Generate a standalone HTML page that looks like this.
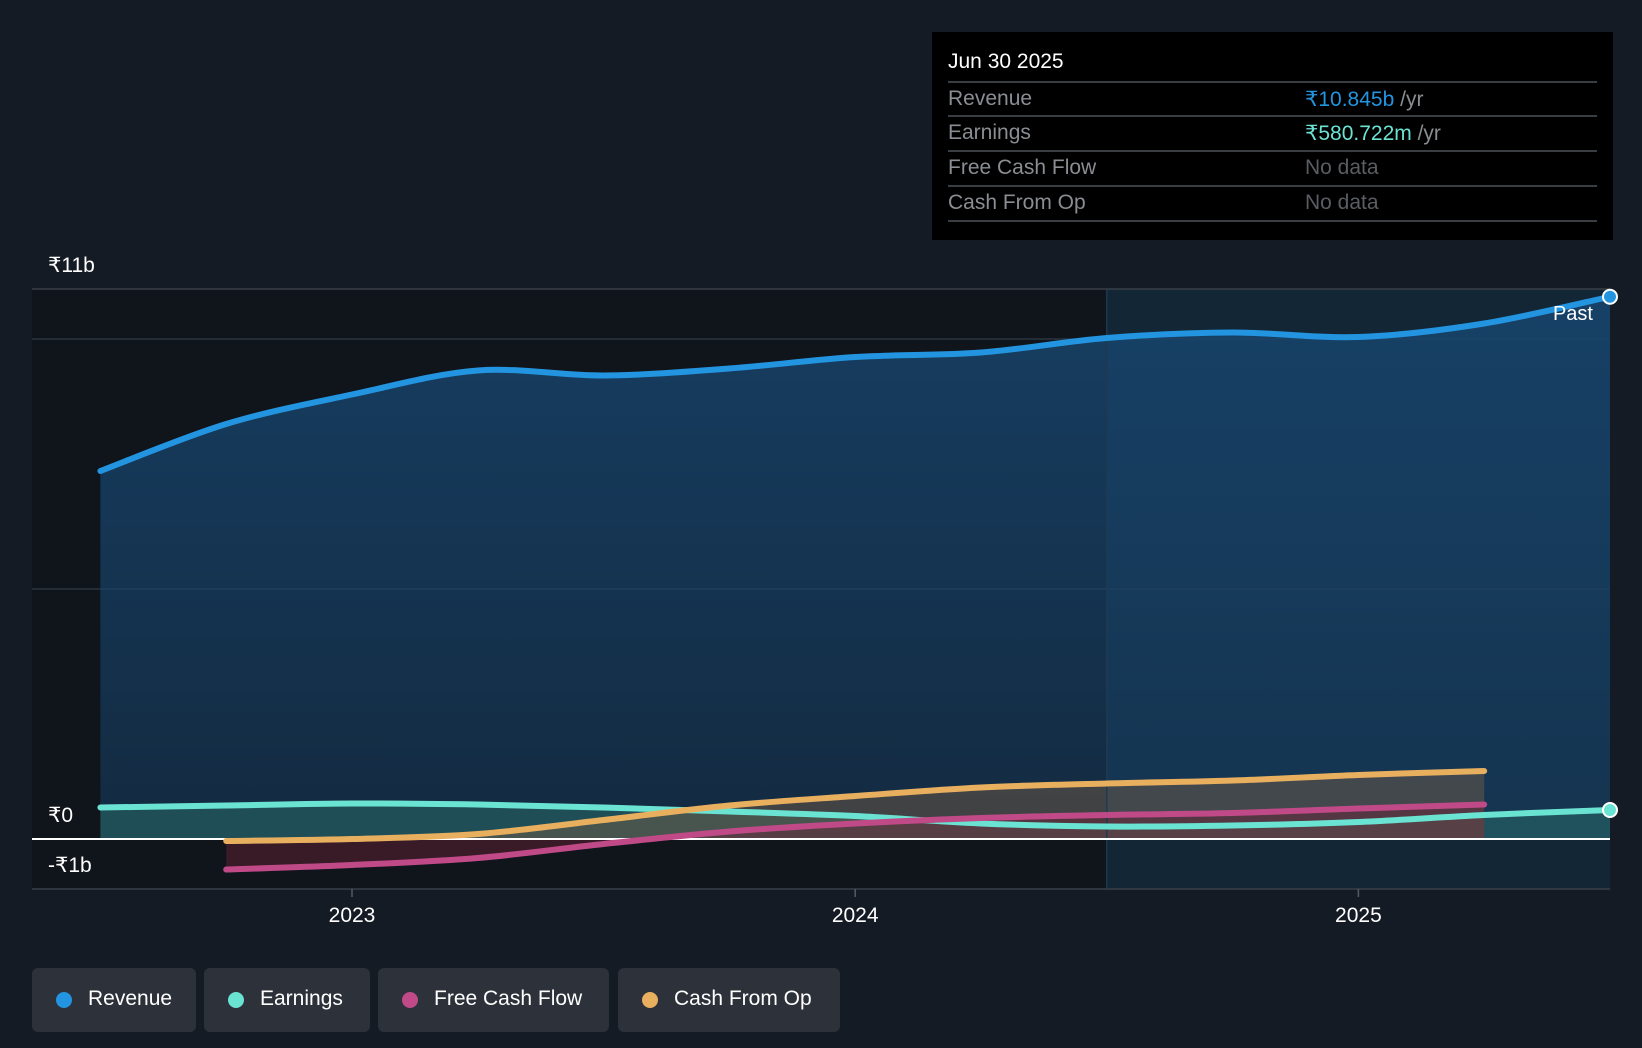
<!DOCTYPE html>
<html><head><meta charset="utf-8">
<style>
html,body{margin:0;padding:0;background:#151b24;width:1642px;height:1048px;overflow:hidden;font-family:"Liberation Sans",sans-serif;}
#chart{position:absolute;left:0;top:0}
.tip{position:absolute;left:932px;top:32px;width:681px;height:208px;background:#000;}
.tip .date{position:absolute;left:16px;top:18px;color:#fff;font-size:21px}
.tip .row{position:absolute;left:16px;width:649px;height:34px;border-top:2px solid #3a3d42;font-size:21px;color:#8a8d92}
.tip .row span.v{position:absolute;left:357px;top:4px}
.tip .row span.l{position:absolute;left:0;top:4px}
.legend{position:absolute;top:968px;height:64px;background:#2c313a;border-radius:6px;color:#fff;font-size:21px}
.legend i{position:absolute;left:24px;top:24px;width:16px;height:16px;border-radius:50%}
.legend span{position:absolute;left:56px;top:19px}
</style></head><body>
<svg id="chart" width="1642" height="1048"></svg>
<div class="tip">
 <div class="date">Jun 30 2025</div>
 <div class="row" style="top:49px"><span class="l">Revenue</span><span class="v"><b style="font-weight:normal;color:#2394df">₹10.845b</b> /yr</span></div>
 <div class="row" style="top:83px"><span class="l">Earnings</span><span class="v"><b style="font-weight:normal;color:#6be3d2">₹580.722m</b> /yr</span></div>
 <div class="row" style="top:118px"><span class="l">Free Cash Flow</span><span class="v" style="color:#5a5d62">No data</span></div>
 <div class="row" style="top:153px"><span class="l">Cash From Op</span><span class="v" style="color:#5a5d62">No data</span></div>
 <div class="row" style="top:188px;height:0"></div>
</div>
<div class="legend" style="left:32px;width:164px"><i style="background:#2394df"></i><span>Revenue</span></div>
<div class="legend" style="left:204px;width:166px"><i style="background:#6be3d2"></i><span>Earnings</span></div>
<div class="legend" style="left:378px;width:231px"><i style="background:#c04a88"></i><span>Free Cash Flow</span></div>
<div class="legend" style="left:618px;width:222px"><i style="background:#e8af5f"></i><span>Cash From Op</span></div>
<script>
const datesA=[2022.5,2022.75,2023,2023.25,2023.5,2023.75,2024,2024.25,2024.5,2024.75,2025,2025.25,2025.5];
const revenue=[7.36,8.30,8.89,9.37,9.27,9.41,9.64,9.73,10.02,10.13,10.04,10.31,10.845];
const earnings=[0.63,0.67,0.71,0.69,0.63,0.55,0.46,0.31,0.25,0.27,0.34,0.48,0.58];
const datesB=[2022.75,2023,2023.25,2023.5,2023.75,2024,2024.25,2024.5,2024.75,2025,2025.25];
const fcf=[-0.61,-0.52,-0.38,-0.10,0.15,0.31,0.42,0.48,0.52,0.61,0.69];
const cfo=[-0.04,0.0,0.10,0.38,0.67,0.86,1.03,1.11,1.17,1.28,1.36];
const yTicks=[11,0,-1];
const yTickLabels=["₹11b","₹0","-₹1b"];
const xTicks=[2023,2024,2025];

const NS="http://www.w3.org/2000/svg";
const svg=document.getElementById('chart');
const X=d=>352+(d-2023)*503.2;
const Y=v=>839-v*50;
function el(t,a){const e=document.createElementNS(NS,t);for(const k in a)e.setAttribute(k,a[k]);svg.appendChild(e);return e;}
function smooth(xs,vs){const p=xs.map((d,i)=>[X(d),Y(vs[i])]);let s=`M${p[0][0]},${p[0][1]}`;
 for(let i=0;i<p.length-1;i++){const p0=p[Math.max(0,i-1)],p1=p[i],p2=p[i+1],p3=p[Math.min(p.length-1,i+2)];
 const c1=[p1[0]+(p2[0]-p0[0])/6,p1[1]+(p2[1]-p0[1])/6],c2=[p2[0]-(p3[0]-p1[0])/6,p2[1]-(p3[1]-p1[1])/6];
 s+=` C${c1[0]},${c1[1]} ${c2[0]},${c2[1]} ${p2[0]},${p2[1]}`;}return s;}
const defs=el('defs',{});
defs.innerHTML='<linearGradient id="rg" x1="0" y1="0" x2="0" y2="1"><stop offset="0" stop-color="#17456e" stop-opacity="0.85"/><stop offset="1" stop-color="#17456e" stop-opacity="0.45"/></linearGradient>';
let r=el('rect',{x:32,y:289,width:X(2024.5)-32,height:600,fill:'#10141b'});

r=el('rect',{x:X(2024.5),y:289,width:1610-X(2024.5),height:600,fill:'#132636'});

[11,10,5,-1].forEach(v=>{const g=el('line',{x1:32,x2:1610,y1:Y(v),y2:Y(v),stroke:v==11||v==-1?'#3a3f47':'#2b3440','stroke-width':1.5});
 });
const x0=X(datesA[0]),x1=X(datesA[datesA.length-1]);
let a=el('path',{d:smooth(datesA,revenue)+` L${x1},${Y(0)} L${x0},${Y(0)} Z`,fill:'url(#rg)'});

a=el('path',{d:smooth(datesA,earnings)+` L${x1},${Y(0)} L${x0},${Y(0)} Z`,fill:'#2a6b6a',opacity:0.55});

const b0=X(datesB[0]),b1=X(datesB[datesB.length-1]);
a=el('path',{d:smooth(datesB,cfo)+` L${b1},${Y(0)} L${b0},${Y(0)} Z`,fill:'#7a6048',opacity:0.45});

a=el('path',{d:smooth(datesB,fcf)+` L${b1},${Y(0)} L${b0},${Y(0)} Z`,fill:'#6a2438',opacity:0.45});

let dv=el('line',{x1:X(2024.5),x2:X(2024.5),y1:289,y2:889,stroke:'#1e3a50','stroke-width':1.5});

let z=el('line',{x1:32,x2:1610,y1:Y(0),y2:Y(0),stroke:'#ffffff','stroke-width':2});

[[datesA,earnings,'#6be3d2','earnings-line'],[datesB,cfo,'#e8af5f','cfo-line'],[datesB,fcf,'#c04a88','fcf-line'],[datesA,revenue,'#2394df','revenue-line']].forEach(s=>{
 const l=el('path',{d:smooth(s[0],s[1]),fill:'none',stroke:s[2],'stroke-width':6,'stroke-linecap':'round'});
 
 
});
[[revenue,'#2394df','revenue-end-dot'],[earnings,'#6be3d2','earnings-end-dot']].forEach(s=>{
 const c=el('circle',{cx:x1,cy:Y(s[0][s[0].length-1]),r:7,fill:s[1],stroke:'#fff','stroke-width':2});
 
 
});
yTicks.forEach((v,i)=>{const t=el('text',{x:48,y:Y(v)-17,fill:'#fff','font-size':21,'font-family':'Liberation Sans, sans-serif'});
 t.textContent=yTickLabels[i];
 
 });
xTicks.forEach(v=>{const tk=el('line',{x1:X(v),x2:X(v),y1:889,y2:897,stroke:'#555b63','stroke-width':1.5});
 
 
 const t=el('text',{x:X(v),y:922,fill:'#fff','font-size':21,'text-anchor':'middle','font-family':'Liberation Sans, sans-serif'});
 t.textContent=String(v);
 
 });
const pt=el('text',{x:1593,y:320,fill:'#fff','font-size':20,'text-anchor':'end','font-family':'Liberation Sans, sans-serif'});
pt.textContent='Past';


</script>
</body></html>
